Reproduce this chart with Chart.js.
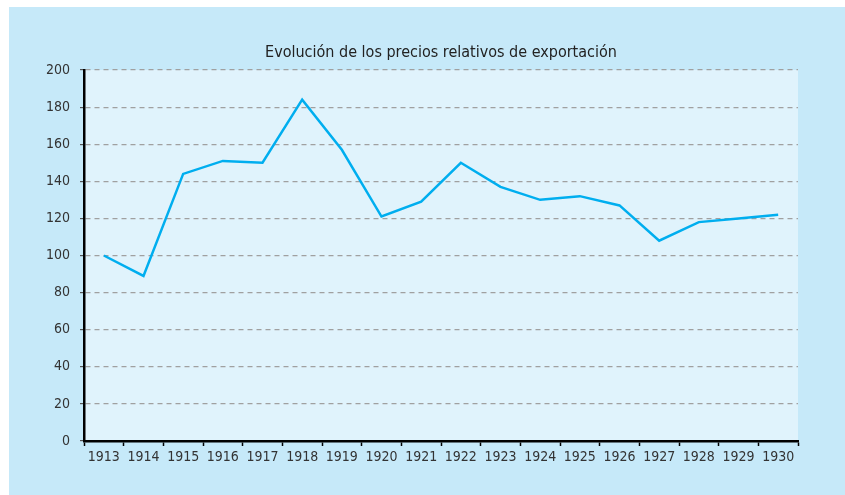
<!DOCTYPE html>
<html>
<head>
<meta charset="utf-8">
<script src="https://cdn.jsdelivr.net/npm/chart.js@4/dist/chart.umd.min.js"></script>
<style>
  html, body { margin: 0; padding: 0; background: #ffffff; }
  #wrap { width: 845px; height: 495px; position: relative; }
</style>
</head>
<body>
<div id="wrap"><canvas id="c" width="845" height="495"></canvas></div>
<script>
const titleText = "Evolución de los precios relativos de exportación";
const years = ["1913","1914","1915","1916","1917","1918","1919","1920","1921","1922","1923","1924","1925","1926","1927","1928","1929","1930"];
const prices = [100, 89, 144, 151, 150, 184, 157, 121, 129, 150, 137, 130, 132, 127, 108, 118, 120, 122];
const yTicks = [0, 20, 40, 60, 80, 100, 120, 140, 160, 180, 200];

const FONT = "'Liberation Sans Narrow', 'DejaVu Sans Condensed', Arial, sans-serif";

const bgPlugin = {
  id: 'bgPlugin',
  beforeDraw(chart) {
    const ctx = chart.ctx;
    const a = chart.chartArea;
    ctx.save();
    ctx.fillStyle = '#c6e9f9';
    ctx.fillRect(9, 7, chart.width - 9, chart.height - 7);
    ctx.fillStyle = '#e0f3fc';
    ctx.fillRect(a.left, a.top, a.right - a.left, a.bottom - a.top);
    ctx.restore();
  }
};

new Chart(document.getElementById('c'), {
  type: 'line',
  data: {
    labels: years,
    datasets: [{
      data: prices,
      borderColor: '#00aeef',
      borderWidth: 2.5,
      pointRadius: 0,
      tension: 0,
      fill: false
    }]
  },
  options: {
    responsive: false,
    animation: false,
    devicePixelRatio: 1,
    layout: { padding: { left: 9, top: 7, right: 47, bottom: 0 } },
    plugins: {
      legend: { display: false },
      tooltip: { enabled: false },
      title: {
        display: true,
        text: titleText,
        fullSize: false,
        color: '#222222',
        font: { family: FONT, size: 16, weight: 'normal', lineHeight: 1.2 },
        padding: { top: 36, bottom: 7.8 }
      }
    },
    scales: {
      x: {
        type: 'category',
        offset: true,
        afterFit(scale) { scale.height = 54; },
        grid: { display: true, drawOnChartArea: false, offset: true, tickLength: 5, tickColor: '#000000', tickWidth: 1.5 },
        border: { display: true, color: '#000000', width: 2.5 },
        ticks: { color: '#333333', font: { family: FONT, size: 14 }, padding: 3, maxRotation: 0, autoSkip: false }
      },
      y: {
        min: 0,
        max: 200,
        afterFit(scale) { scale.width = 75; },
        afterBuildTicks(scale) { scale.ticks = yTicks.map(v => ({ value: v })); },
        grid: {
          display: true,
          color: (ctx) => ctx.tick && ctx.tick.value === 0 ? 'rgba(0,0,0,0)' : '#a0a0a0',
          lineWidth: 1.2,
          tickLength: 4,
          tickColor: '#555555',
          drawTicks: true
        },
        border: { display: true, color: '#000000', width: 2.5, dash: [5, 4] },
        ticks: { color: '#333333', font: { family: FONT, size: 14 }, padding: 10 }
      }
    }
  },
  plugins: [bgPlugin]
});
</script>
</body>
</html>
